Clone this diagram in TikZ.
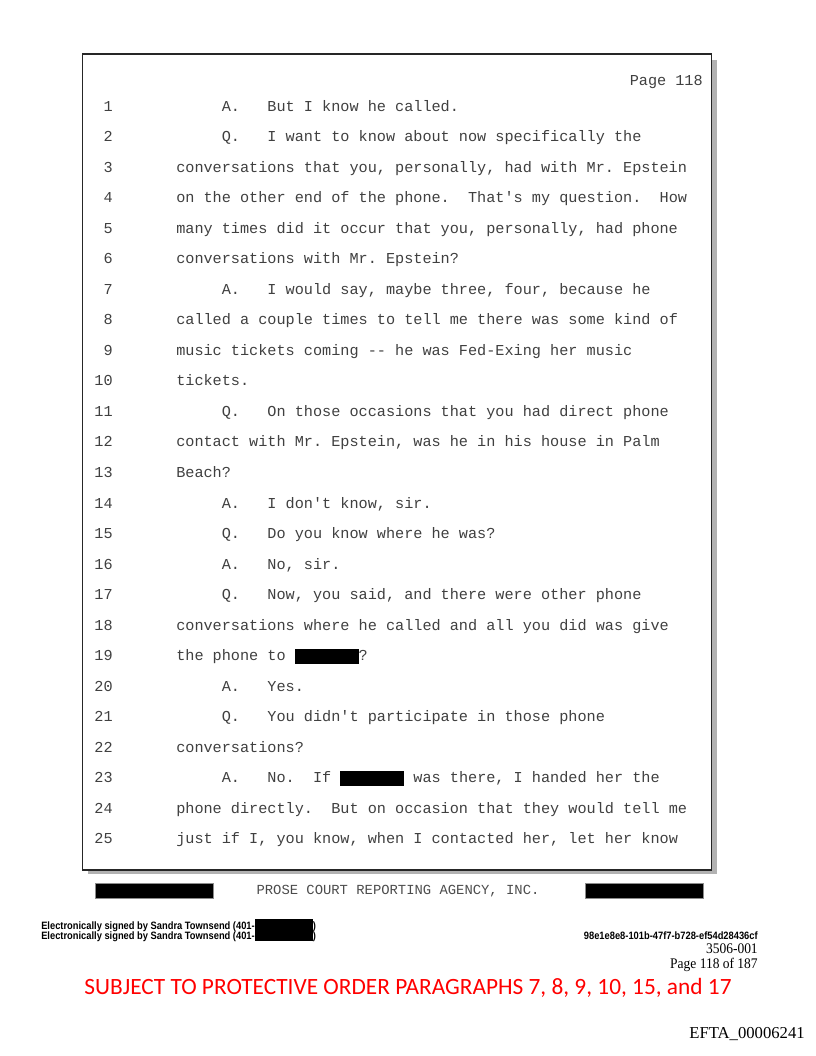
\documentclass[tikz,border=0pt]{standalone}
\usepackage{fontspec}
\setmainfont{Liberation Serif}
\setmonofont{Liberation Mono}
\newfontfamily\sigfont{Liberation Sans}
\newfontfamily\stampfont{Carlito}
\newcommand{\blackout}[1]{\textcolor{black}{\rule[-2.5pt]{#1}{11.3pt}}}
\newcommand{\sigbox}{\rule[-1.6pt]{49.7pt}{9.4pt}}
\tikzset{
  lnum/.style={anchor=base east, inner sep=0pt, text=black!75,
    font=\fontsize{11.4}{13}\selectfont\ttfamily\frenchspacing},
  txt/.style={lnum, anchor=base west},
  redact/.style={fill=black, draw=black!45, line width=0.4pt},
  sig/.style={anchor=base west, inner sep=0pt, font=\fontsize{8}{9}\selectfont\sigfont\bfseries},
}

\begin{document}
\begin{tikzpicture}[x=0.75pt, y=-0.75pt]
  \useasboundingbox (0,0) rectangle (816,1056);
  % page frame with shadow
  \fill[black!30] (88,60) rectangle (716.5,874);
  \draw[fill=white, draw=black!85, line width=1.1pt] (82.7,54) rectangle (711.5,870);
  \node[lnum] (page) at (703,85) {Page 118};
  \coordinate (left) at (176,0);
  \coordinate (indent) at (221.6,0);
  \foreach \n in {1,...,25}
    \node[lnum] (n\n) at (113, {111+(\n-1)*30.54}) {\n};
  \node[txt] (l1) at (n1.base -| indent) {A.~~~But I know he called.};
  \node[txt] (l2) at (n2.base -| indent) {Q.~~~I want to know about now specifically the};
  \node[txt] (l3) at (n3.base -| left) {conversations that you, personally, had with Mr. Epstein};
  \node[txt] (l4) at (n4.base -| left) {on the other end of the phone.~~That's my question.~~How};
  \node[txt] (l5) at (n5.base -| left) {many times did it occur that you, personally, had phone};
  \node[txt] (l6) at (n6.base -| left) {conversations with Mr. Epstein?};
  \node[txt] (l7) at (n7.base -| indent) {A.~~~I would say, maybe three, four, because he};
  \node[txt] (l8) at (n8.base -| left) {called a couple times to tell me there was some kind of};
  \node[txt] (l9) at (n9.base -| left) {music tickets coming -- he was Fed-Exing her music};
  \node[txt] (l10) at (n10.base -| left) {tickets.};
  \node[txt] (l11) at (n11.base -| indent) {Q.~~~On those occasions that you had direct phone};
  \node[txt] (l12) at (n12.base -| left) {contact with Mr. Epstein, was he in his house in Palm};
  \node[txt] (l13) at (n13.base -| left) {Beach?};
  \node[txt] (l14) at (n14.base -| indent) {A.~~~I don't know, sir.};
  \node[txt] (l15) at (n15.base -| indent) {Q.~~~Do you know where he was?};
  \node[txt] (l16) at (n16.base -| indent) {A.~~~No, sir.};
  \node[txt] (l17) at (n17.base -| indent) {Q.~~~Now, you said, and there were other phone};
  \node[txt] (l18) at (n18.base -| left) {conversations where he called and all you did was give};
  \node[txt] (l19) at (n19.base -| left) {the phone to \blackout{4.2em}?};
  \node[txt] (l20) at (n20.base -| indent) {A.~~~Yes.};
  \node[txt] (l21) at (n21.base -| indent) {Q.~~~You didn't participate in those phone};
  \node[txt] (l22) at (n22.base -| left) {conversations?};
  \node[txt] (l23) at (n23.base -| indent) {A.~~~No.~~If \blackout{4.2em} was there, I handed her the};
  \node[txt] (l24) at (n24.base -| left) {phone directly.~~But on occasion that they would tell me};
  \node[txt] (l25) at (n25.base -| left) {just if I, you know, when I contacted her, let her know};
  % footer
  \draw[redact] (95,883) rectangle (213,898);
  \draw[redact] (585,883) rectangle (703,898);
  \node[lnum, anchor=base, text=black!70, font=\fontsize{10.4}{12}\selectfont\ttfamily]
    (agency) at (398,894) {PROSE COURT REPORTING AGENCY, INC.};
  \node[sig] (sig1) at (41,929) {\scalebox{0.875}[1]{Electronically signed by Sandra Townsend (401-\sigbox)}};
  \node[sig] (sig2) at (41,939) {\scalebox{0.875}[1]{Electronically signed by Sandra Townsend (401-\sigbox)}};
  \node[sig, anchor=base east] (hash) at (758,939) {\scalebox{0.875}[1]{98e1e8e8-101b-47f7-b728-ef54d28436cf}};
  \node[anchor=base east, inner sep=0pt, font=\fontsize{11}{12}\selectfont] (docno) at (758,953) {\scalebox{0.92}[1]{3506-001}};
  \node[anchor=base east, inner sep=0pt, font=\fontsize{11}{12}\selectfont] (pageof) at (758,968) {\scalebox{0.92}[1]{Page 118 of 187}};
  \node[anchor=base, inner sep=0pt, text=red, font=\fontsize{17.5}{20}\selectfont\stampfont]
    (order) at (408,994) {SUBJECT TO PROTECTIVE ORDER PARAGRAPHS 7, 8, 9, 10, 15, and 17};
  \node[anchor=base east, inner sep=0pt, font=\fontsize{12.5}{14}\selectfont] (efta) at (805,1038) {EFTA\_00006241};
\end{tikzpicture}
\end{document}
